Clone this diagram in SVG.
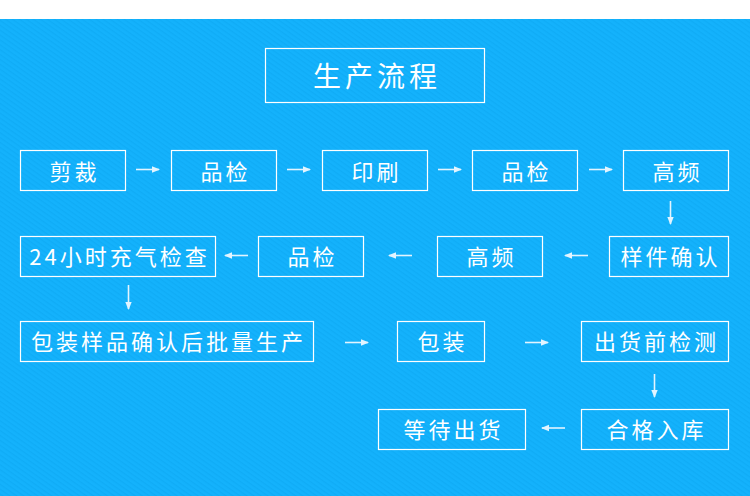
<svg xmlns="http://www.w3.org/2000/svg" width="750" height="496" viewBox="0 0 750 496">
<defs>
<pattern id="tex" width="4" height="4" patternUnits="userSpaceOnUse" patternTransform="rotate(35)">
<rect width="4" height="4" fill="#14B2FC"/>
<rect width="4" height="1.3" fill="#0EA8F2" opacity="0.6"/>
</pattern>
<marker id="ah" viewBox="0 0 8 8" refX="7" refY="4" markerWidth="8" markerHeight="8" markerUnits="userSpaceOnUse" orient="auto">
<path d="M0,0.8 L8,4 L0,7.2 Z" fill="#E2F4FF"/>
</marker>
<style>
.box{fill:none;stroke:#FFFFFF;stroke-width:1.2}
.t{font-family:"Noto Sans CJK SC","Microsoft YaHei",sans-serif;font-size:22px;fill:#FFFFFF;text-anchor:middle;dominant-baseline:central;letter-spacing:3px}
.title{font-size:28px;letter-spacing:4px}
.arr{stroke:#E2F4FF;stroke-width:1.6;fill:none;marker-end:url(#ah)}
</style>
</defs>
<rect width="750" height="496" fill="#FFFFFF"/>
<rect y="19" width="750" height="477" fill="url(#tex)"/>

<g id="title"><rect class="box" x="265.5" y="48.5" width="219" height="54"/><text class="t title" x="377" y="74.5">生产流程</text></g>

<g id="n1"><rect class="box" x="20.5" y="150.5" width="105" height="40"/><text class="t" x="74.5" y="169.5">剪裁</text></g>
<g id="n2"><rect class="box" x="171.5" y="150.5" width="105" height="40"/><text class="t" x="225.5" y="169.5">品检</text></g>
<g id="n3"><rect class="box" x="322.5" y="150.5" width="105" height="40"/><text class="t" x="376.5" y="169.5">印刷</text></g>
<g id="n4"><rect class="box" x="472.5" y="150.5" width="105" height="40"/><text class="t" x="526.5" y="169.5">品检</text></g>
<g id="n5"><rect class="box" x="623.5" y="150.5" width="105" height="40"/><text class="t" x="677.5" y="169.5">高频</text></g>

<g id="n6"><rect class="box" x="609.5" y="236.5" width="119" height="40"/><text class="t" x="670.5" y="255">样件确认</text></g>
<g id="n7"><rect class="box" x="437.5" y="236.5" width="105" height="40"/><text class="t" x="491.5" y="255">高频</text></g>
<g id="n8"><rect class="box" x="258.5" y="236.5" width="105" height="40"/><text class="t" x="312.5" y="255">品检</text></g>
<g id="n9"><rect class="box" x="20.5" y="236.5" width="195" height="40"/><text class="t" x="119.5" y="255">24小时充气检查</text></g>

<g id="n10"><rect class="box" x="20.5" y="321.5" width="293" height="40"/><text class="t" x="168.5" y="340">包装样品确认后批量生产</text></g>
<g id="n11"><rect class="box" x="397.5" y="321.5" width="87" height="40"/><text class="t" x="442.5" y="340">包装</text></g>
<g id="n12"><rect class="box" x="581.5" y="321.5" width="147" height="40"/><text class="t" x="656.5" y="340">出货前检测</text></g>

<g id="n13"><rect class="box" x="581.5" y="409.5" width="147" height="40"/><text class="t" x="656.5" y="428">合格入库</text></g>
<g id="n14"><rect class="box" x="378.5" y="409.5" width="147" height="40"/><text class="t" x="453.5" y="428">等待出货</text></g>

<g id="connectors">
<line class="arr" x1="136" y1="169.5" x2="159" y2="169.5"/>
<line class="arr" x1="287" y1="169.5" x2="310" y2="169.5"/>
<line class="arr" x1="438" y1="169.5" x2="461" y2="169.5"/>
<line class="arr" x1="589" y1="169.5" x2="612" y2="169.5"/>
<line class="arr" x1="670.5" y1="201" x2="670.5" y2="224"/>
<line class="arr" x1="588" y1="255.5" x2="565" y2="255.5"/>
<line class="arr" x1="412" y1="255.5" x2="389" y2="255.5"/>
<line class="arr" x1="248" y1="255.5" x2="225" y2="255.5"/>
<line class="arr" x1="128.5" y1="285" x2="128.5" y2="309"/>
<line class="arr" x1="345" y1="342.5" x2="368" y2="342.5"/>
<line class="arr" x1="525" y1="342.5" x2="548" y2="342.5"/>
<line class="arr" x1="654.5" y1="374" x2="654.5" y2="397"/>
<line class="arr" x1="565" y1="428" x2="542" y2="428"/>
</g>
</svg>
